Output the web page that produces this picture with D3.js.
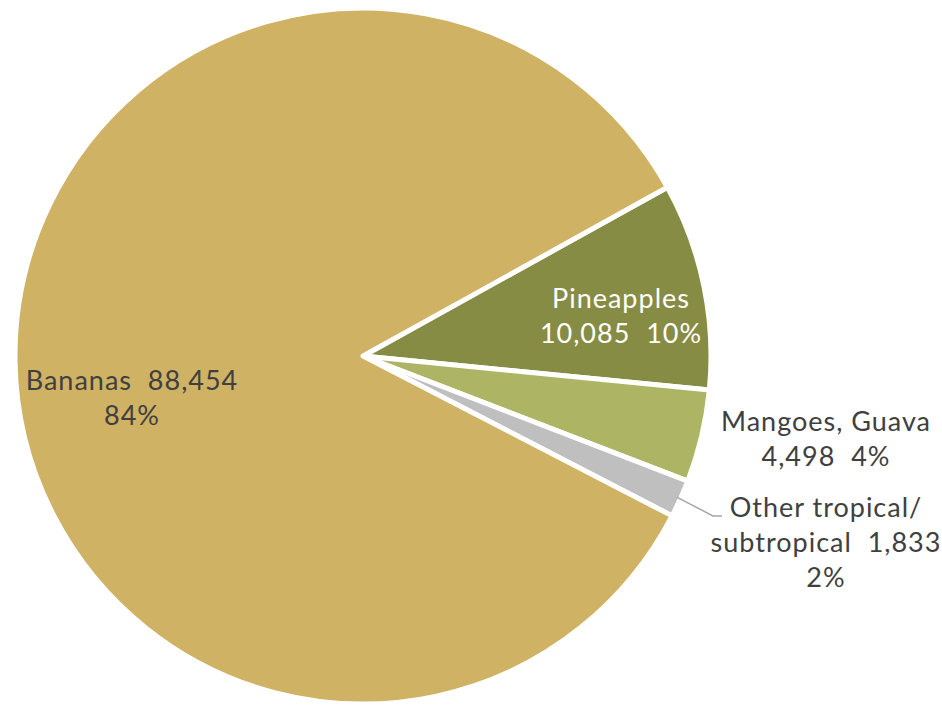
<!DOCTYPE html>
<html>
<head>
<meta charset="utf-8">
<script src="https://cdn.jsdelivr.net/npm/d3@7"></script>
<style>
  html, body { margin: 0; padding: 0; background: #fff; }
  svg { display: block; }
  text { font-family: "Lato", "Noto Sans", sans-serif; white-space: pre; }
</style>
</head>
<body>
<svg id="chart" width="942" height="705"></svg>
<script>
// Tropical fruit volumes by category
const categories = ["Pineapples", "Mangoes, Guava", "Other tropical/ subtropical", "Bananas"];
const values = [10085, 4498, 1833, 88454];
const colors = ["#878C45", "#ADB464", "#BFBFBF", "#CFB263"];

// label lines for each slice
const labelLines = [
  ["Pineapples", "10,085  10%"],
  ["Mangoes, Guava", "4,498  4%"],
  ["Other tropical/", "subtropical  1,833", "2%"],
  ["Bananas  88,454", "84%"]
];
const labelPos = [
  { x: 621, y: 308, fill: "#ffffff" },
  { x: 826, y: 431, fill: "#404040" },
  { x: 826, y: 517, fill: "#404040" },
  { x: 132, y: 390, fill: "#404040" }
];

const svg = d3.select("#chart");
const cx = 363, cy = 356, r = 348;
const startDeg = 61;

const pie = d3.pie()
  .value(d => d)
  .sort(null)
  .startAngle(startDeg * Math.PI / 180)
  .endAngle((startDeg + 360) * Math.PI / 180);

const arcs = pie(values);
const arc = d3.arc().innerRadius(0).outerRadius(r);

const g = svg.append("g").attr("transform", `translate(${cx},${cy})`);

g.selectAll("path")
  .data(arcs)
  .join("path")
  .attr("d", arc)
  .attr("fill", (d, i) => colors[i])
  .attr("stroke", "#ffffff")
  .attr("stroke-width", 5)
  .attr("stroke-linejoin", "round");

// leader line for the small slice
const small = arcs[2];
const mid = (small.startAngle + small.endAngle) / 2;
const p0 = [Math.sin(mid) * (r - 4) + cx, -Math.cos(mid) * (r - 4) + cy];
svg.append("polyline")
  .attr("points", [p0, [713, 516], [722, 516]].map(p => p.join(",")).join(" "))
  .attr("fill", "none")
  .attr("stroke", "#A6A6A6")
  .attr("stroke-width", 1.5);

const lineH = 35;
labelLines.forEach((lines, i) => {
  const p = labelPos[i];
  const t = svg.append("text")
    .attr("text-anchor", "middle")
    .attr("fill", p.fill)
    .attr("font-size", 27)
    .attr("letter-spacing", 1);
  lines.forEach((s, j) => {
    t.append("tspan").attr("x", p.x).attr("y", p.y + j * lineH).text(s);
  });
});
</script>
</body>
</html>
